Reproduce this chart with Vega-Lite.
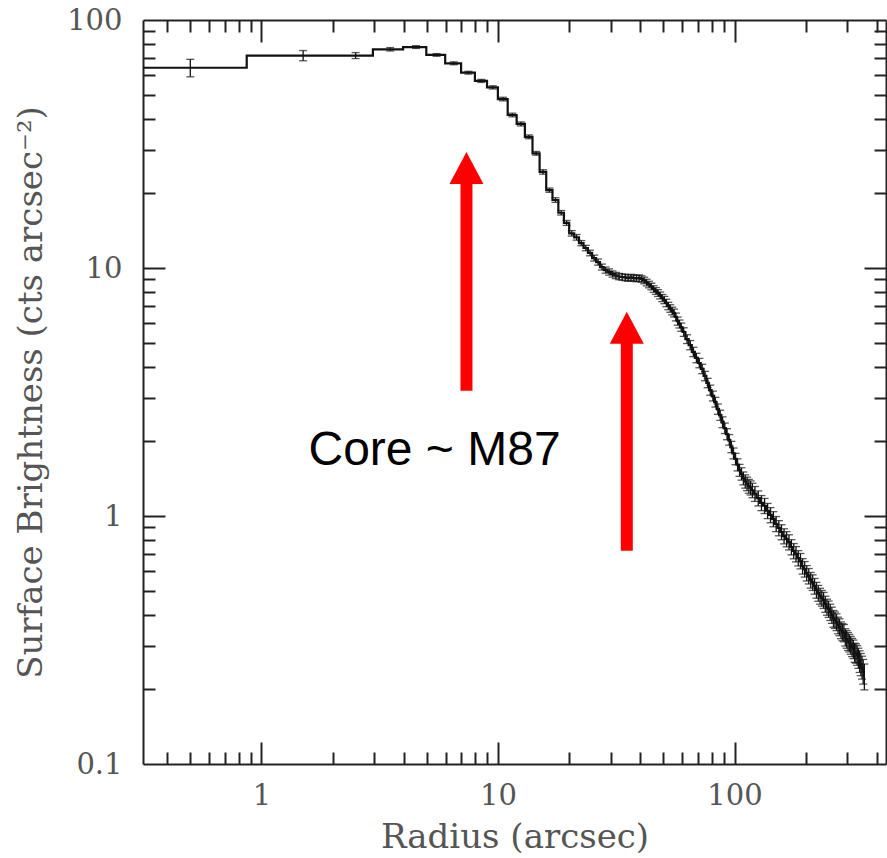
{
  "$schema": "https://vega.github.io/schema/vega-lite/v6.json",
  "width": 743,
  "height": 744,
  "autosize": {"type": "none"},
  "padding": {"left": 143, "top": 20, "right": 1, "bottom": 94},
  "background": "white",
  "config": {
    "view": {"stroke": null},
    "axis": {
      "grid": false,
      "domainColor": "#222",
      "domainWidth": 2,
      "tickColor": "#222",
      "tickWidth": 2,
      "labelFont": "DejaVu Serif",
      "labelFontSize": 29,
      "labelColor": "#555",
      "titleFont": "DejaVu Serif",
      "titleFontSize": 34,
      "titleFontWeight": "normal",
      "titleColor": "#555",
      "labelFlush": false,
      "labelOverlap": false
    }
  },
  "datasets": {
    "profile": [
      {"r": 0.25, "sb": 64.2, "err": 0},
      {"r": 0.5, "sb": 64.2, "err": 5.2},
      {"r": 1.5, "sb": 71.9, "err": 3.4},
      {"r": 2.5, "sb": 71.9, "err": 2.0},
      {"r": 3.5, "sb": 76.2, "err": 1.2},
      {"r": 4.5, "sb": 77.8, "err": 1.0},
      {"r": 5.5, "sb": 72.3, "err": 0.9},
      {"r": 6.5, "sb": 66.9, "err": 0.9},
      {"r": 7.5, "sb": 61.3, "err": 0.8},
      {"r": 8.5, "sb": 56.8, "err": 0.8},
      {"r": 9.5, "sb": 53.5, "err": 0.8},
      {"r": 10.5, "sb": 48.0, "err": 0.8},
      {"r": 11.5, "sb": 41.4, "err": 0.7},
      {"r": 12.5, "sb": 38.1, "err": 0.7},
      {"r": 13.5, "sb": 33.8, "err": 0.6},
      {"r": 14.5, "sb": 29.0, "err": 0.5},
      {"r": 15.5, "sb": 24.4, "err": 0.5},
      {"r": 16.5, "sb": 20.6, "err": 0.4},
      {"r": 17.5, "sb": 18.8, "err": 0.4},
      {"r": 18.5, "sb": 16.7, "err": 0.35},
      {"r": 19.5, "sb": 15.2, "err": 0.35},
      {"r": 20.5, "sb": 13.8, "err": 0.35},
      {"r": 21.5, "sb": 13.3, "err": 0.35},
      {"r": 22.5, "sb": 12.6, "err": 0.3},
      {"r": 23.5, "sb": 12.04, "err": 0.3},
      {"r": 24.5, "sb": 11.5, "err": 0.3},
      {"r": 25.5, "sb": 10.97, "err": 0.3},
      {"r": 26.5, "sb": 10.57, "err": 0.3},
      {"r": 27.5, "sb": 10.09, "err": 0.28},
      {"r": 28.5, "sb": 9.81, "err": 0.28},
      {"r": 29.5, "sb": 9.64, "err": 0.28},
      {"r": 30.5, "sb": 9.46, "err": 0.27},
      {"r": 31.5, "sb": 9.33, "err": 0.27},
      {"r": 32.5, "sb": 9.24, "err": 0.27},
      {"r": 33.5, "sb": 9.2, "err": 0.27},
      {"r": 34.5, "sb": 9.16, "err": 0.27},
      {"r": 35.5, "sb": 9.11, "err": 0.27},
      {"r": 36.5, "sb": 9.16, "err": 0.27},
      {"r": 37.5, "sb": 9.11, "err": 0.27},
      {"r": 38.5, "sb": 9.07, "err": 0.27},
      {"r": 39.5, "sb": 9.11, "err": 0.27},
      {"r": 40.5, "sb": 9.03, "err": 0.27},
      {"r": 41.5, "sb": 8.91, "err": 0.27},
      {"r": 42.5, "sb": 8.74, "err": 0.27},
      {"r": 43.5, "sb": 8.58, "err": 0.26},
      {"r": 44.5, "sb": 8.42, "err": 0.26},
      {"r": 45.5, "sb": 8.23, "err": 0.25},
      {"r": 46.5, "sb": 8.08, "err": 0.25},
      {"r": 47.5, "sb": 7.93, "err": 0.25},
      {"r": 48.5, "sb": 7.75, "err": 0.25},
      {"r": 49.5, "sb": 7.57, "err": 0.25},
      {"r": 50.5, "sb": 7.43, "err": 0.25},
      {"r": 51.5, "sb": 7.23, "err": 0.25},
      {"r": 52.5, "sb": 7.03, "err": 0.24},
      {"r": 53.5, "sb": 6.87, "err": 0.24},
      {"r": 54.5, "sb": 6.71, "err": 0.24},
      {"r": 55.5, "sb": 6.59, "err": 0.24},
      {"r": 56.5, "sb": 6.35, "err": 0.23},
      {"r": 57.5, "sb": 6.11, "err": 0.23},
      {"r": 58.5, "sb": 5.95, "err": 0.22},
      {"r": 59.5, "sb": 5.78, "err": 0.22},
      {"r": 61, "sb": 5.52, "err": 0.22},
      {"r": 63, "sb": 5.17, "err": 0.21},
      {"r": 65, "sb": 4.89, "err": 0.21},
      {"r": 67, "sb": 4.59, "err": 0.2},
      {"r": 69, "sb": 4.34, "err": 0.19},
      {"r": 71, "sb": 4.14, "err": 0.18},
      {"r": 73, "sb": 3.92, "err": 0.17},
      {"r": 75, "sb": 3.67, "err": 0.16},
      {"r": 77, "sb": 3.44, "err": 0.15},
      {"r": 79, "sb": 3.22, "err": 0.15},
      {"r": 81, "sb": 3.05, "err": 0.14},
      {"r": 83, "sb": 2.88, "err": 0.13},
      {"r": 85, "sb": 2.7, "err": 0.13},
      {"r": 87, "sb": 2.55, "err": 0.12},
      {"r": 89, "sb": 2.39, "err": 0.12},
      {"r": 91, "sb": 2.26, "err": 0.11},
      {"r": 93, "sb": 2.14, "err": 0.11},
      {"r": 95, "sb": 2.03, "err": 0.1},
      {"r": 97, "sb": 1.9, "err": 0.1},
      {"r": 99, "sb": 1.79, "err": 0.09},
      {"r": 101, "sb": 1.7, "err": 0.09},
      {"r": 103, "sb": 1.61, "err": 0.09},
      {"r": 105, "sb": 1.53, "err": 0.085},
      {"r": 107, "sb": 1.48, "err": 0.085},
      {"r": 109, "sb": 1.42, "err": 0.085},
      {"r": 111, "sb": 1.38, "err": 0.085},
      {"r": 113, "sb": 1.35, "err": 0.085},
      {"r": 115, "sb": 1.32, "err": 0.085},
      {"r": 117, "sb": 1.3, "err": 0.085},
      {"r": 119, "sb": 1.27, "err": 0.085},
      {"r": 122, "sb": 1.23, "err": 0.085},
      {"r": 126, "sb": 1.18, "err": 0.082},
      {"r": 130, "sb": 1.13, "err": 0.079},
      {"r": 134, "sb": 1.1, "err": 0.077},
      {"r": 138, "sb": 1.05, "err": 0.074},
      {"r": 142, "sb": 1.01, "err": 0.071},
      {"r": 146, "sb": 0.973, "err": 0.068},
      {"r": 150, "sb": 0.93, "err": 0.065},
      {"r": 154, "sb": 0.895, "err": 0.063},
      {"r": 158, "sb": 0.862, "err": 0.06},
      {"r": 162, "sb": 0.83, "err": 0.058},
      {"r": 166, "sb": 0.808, "err": 0.057},
      {"r": 170, "sb": 0.785, "err": 0.055},
      {"r": 174, "sb": 0.75, "err": 0.053},
      {"r": 178, "sb": 0.723, "err": 0.051},
      {"r": 182, "sb": 0.703, "err": 0.05},
      {"r": 186, "sb": 0.677, "err": 0.048},
      {"r": 190, "sb": 0.659, "err": 0.047},
      {"r": 194, "sb": 0.628, "err": 0.045},
      {"r": 198, "sb": 0.611, "err": 0.044},
      {"r": 202, "sb": 0.589, "err": 0.042},
      {"r": 206, "sb": 0.573, "err": 0.041},
      {"r": 210, "sb": 0.552, "err": 0.04},
      {"r": 214, "sb": 0.54, "err": 0.039},
      {"r": 218, "sb": 0.522, "err": 0.038},
      {"r": 222, "sb": 0.503, "err": 0.037},
      {"r": 226, "sb": 0.489, "err": 0.036},
      {"r": 230, "sb": 0.476, "err": 0.035},
      {"r": 234, "sb": 0.467, "err": 0.034},
      {"r": 238, "sb": 0.458, "err": 0.034},
      {"r": 242, "sb": 0.442, "err": 0.033},
      {"r": 246, "sb": 0.43, "err": 0.032},
      {"r": 250, "sb": 0.422, "err": 0.032},
      {"r": 254, "sb": 0.41, "err": 0.031},
      {"r": 258, "sb": 0.399, "err": 0.03},
      {"r": 262, "sb": 0.386, "err": 0.03},
      {"r": 266, "sb": 0.381, "err": 0.029},
      {"r": 270, "sb": 0.374, "err": 0.029},
      {"r": 274, "sb": 0.363, "err": 0.028},
      {"r": 278, "sb": 0.357, "err": 0.028},
      {"r": 282, "sb": 0.347, "err": 0.027},
      {"r": 286, "sb": 0.341, "err": 0.027},
      {"r": 290, "sb": 0.338, "err": 0.027},
      {"r": 294, "sb": 0.325, "err": 0.026},
      {"r": 298, "sb": 0.319, "err": 0.026},
      {"r": 302, "sb": 0.313, "err": 0.026},
      {"r": 306, "sb": 0.308, "err": 0.025},
      {"r": 310, "sb": 0.302, "err": 0.025},
      {"r": 314, "sb": 0.296, "err": 0.025},
      {"r": 318, "sb": 0.291, "err": 0.025},
      {"r": 322, "sb": 0.282, "err": 0.025},
      {"r": 326, "sb": 0.28, "err": 0.025},
      {"r": 330, "sb": 0.275, "err": 0.025},
      {"r": 334, "sb": 0.268, "err": 0.025},
      {"r": 338, "sb": 0.26, "err": 0.026},
      {"r": 342, "sb": 0.253, "err": 0.026},
      {"r": 346, "sb": 0.246, "err": 0.026},
      {"r": 350, "sb": 0.237, "err": 0.027},
      {"r": 354, "sb": 0.226, "err": 0.027}
    ],
    "arrows": [
      {"ax": 7.356, "y0": 3.2, "y1": 25.3, "yh": 25.3},
      {"ax": 35.04, "y0": 0.7245, "y1": 5.74, "yh": 5.74}
    ],
    "note": [
      {"tx": 1.58, "ty": 1.606, "label": "Core ~ M87"}
    ]
  },
  "layer": [
    {
      "data": {"name": "profile"},
      "transform": [{"filter": "datum.err > 0"}],
      "mark": {
        "type": "errorbar",
        "orient": "vertical",
        "ticks": {"size": 8, "thickness": 1.3, "color": "#111"},
        "rule": {"strokeWidth": 1.3, "color": "#111"}
      },
      "encoding": {
        "x": {"field": "r", "type": "quantitative", "scale": {"type": "log", "domain": [0.3155, 437], "nice": false}, "axis": null},
        "y": {"field": "sb", "type": "quantitative", "scale": {"type": "log", "domain": [0.1, 100], "nice": false}, "axis": null},
        "yError": {"field": "err"}
      }
    },
    {
      "data": {"name": "profile"},
      "mark": {"type": "line", "interpolate": "step", "color": "#111", "strokeWidth": 2.2, "clip": true},
      "encoding": {
        "x": {
          "field": "r", "type": "quantitative",
          "scale": {"type": "log", "domain": [0.3155, 437], "nice": false},
          "axis": {"orient": "bottom", "values": [1, 10, 100], "format": "~g", "ticks": false, "domain": true, "labelPadding": 17, "title": "Radius (arcsec)", "titlePadding": 10}
        },
        "y": {
          "field": "sb", "type": "quantitative",
          "scale": {"type": "log", "domain": [0.1, 100], "nice": false},
          "axis": {"orient": "left", "values": [0.1, 1, 10, 100], "format": "~g", "ticks": false, "domain": true, "labelPadding": 21, "title": "Surface Brightness (cts arcsec⁻²)", "titlePadding": 18}
        }
      }
    },
    {
      "data": {"name": "arrows"},
      "mark": {"type": "rule", "color": "#ff0000", "strokeWidth": 12, "strokeCap": "butt"},
      "encoding": {
        "x": {
          "field": "ax", "type": "quantitative",
          "scale": {"type": "log", "domain": [0.3155, 437], "nice": false},
          "axis": {"orient": "bottom", "values": [0.4, 0.5, 0.6, 0.7, 0.8, 0.9, 1, 2, 3, 4, 5, 6, 7, 8, 9, 10, 20, 30, 40, 50, 60, 70, 80, 90, 100, 200, 300, 400], "labels": false, "domain": false, "ticks": true, "title": null,
                   "tickSize": {"condition": {"test": "datum.value == 1 || datum.value == 10 || datum.value == 100", "value": -22}, "value": -12}}
        },
        "y": {
          "field": "y0", "type": "quantitative",
          "scale": {"type": "log", "domain": [0.1, 100], "nice": false},
          "axis": {"orient": "left", "values": [0.2, 0.3, 0.4, 0.5, 0.6, 0.7, 0.8, 0.9, 1, 2, 3, 4, 5, 6, 7, 8, 9, 10, 20, 30, 40, 50, 60, 70, 80, 90], "labels": false, "domain": false, "ticks": true, "title": null,
                   "tickSize": {"condition": {"test": "datum.value == 1 || datum.value == 10", "value": -22}, "value": -12}}
        },
        "y2": {"field": "y1"}
      }
    },
    {
      "data": {"name": "arrows"},
      "mark": {"type": "point", "shape": "M0,-0.94L-1,0.94L1,0.94Z", "filled": true, "color": "#ff0000", "opacity": 1, "size": 1156, "strokeWidth": 0},
      "encoding": {
        "x": {
          "field": "ax", "type": "quantitative",
          "scale": {"type": "log", "domain": [0.3155, 437], "nice": false},
          "axis": {"orient": "top", "values": [0.4, 0.5, 0.6, 0.7, 0.8, 0.9, 1, 2, 3, 4, 5, 6, 7, 8, 9, 10, 20, 30, 40, 50, 60, 70, 80, 90, 100, 200, 300, 400], "labels": false, "domain": true, "ticks": true, "title": null,
                   "tickSize": {"condition": {"test": "datum.value == 1 || datum.value == 10 || datum.value == 100", "value": -22}, "value": -12}}
        },
        "y": {
          "field": "yh", "type": "quantitative",
          "scale": {"type": "log", "domain": [0.1, 100], "nice": false},
          "axis": {"orient": "right", "values": [0.2, 0.3, 0.4, 0.5, 0.6, 0.7, 0.8, 0.9, 1, 2, 3, 4, 5, 6, 7, 8, 9, 10, 20, 30, 40, 50, 60, 70, 80, 90], "labels": false, "domain": true, "ticks": true, "title": null,
                   "tickSize": {"condition": {"test": "datum.value == 1 || datum.value == 10", "value": -22}, "value": -12}}
        }
      }
    },
    {
      "data": {"name": "note"},
      "mark": {"type": "text", "align": "left", "baseline": "alphabetic", "font": "Liberation Sans", "fontSize": 48, "color": "#000"},
      "encoding": {
        "x": {"field": "tx", "type": "quantitative", "scale": {"type": "log", "domain": [0.3155, 437], "nice": false}, "axis": null},
        "y": {"field": "ty", "type": "quantitative", "scale": {"type": "log", "domain": [0.1, 100], "nice": false}, "axis": null},
        "text": {"field": "label"}
      }
    }
  ],
  "resolve": {"axis": {"x": "independent", "y": "independent"}}
}
